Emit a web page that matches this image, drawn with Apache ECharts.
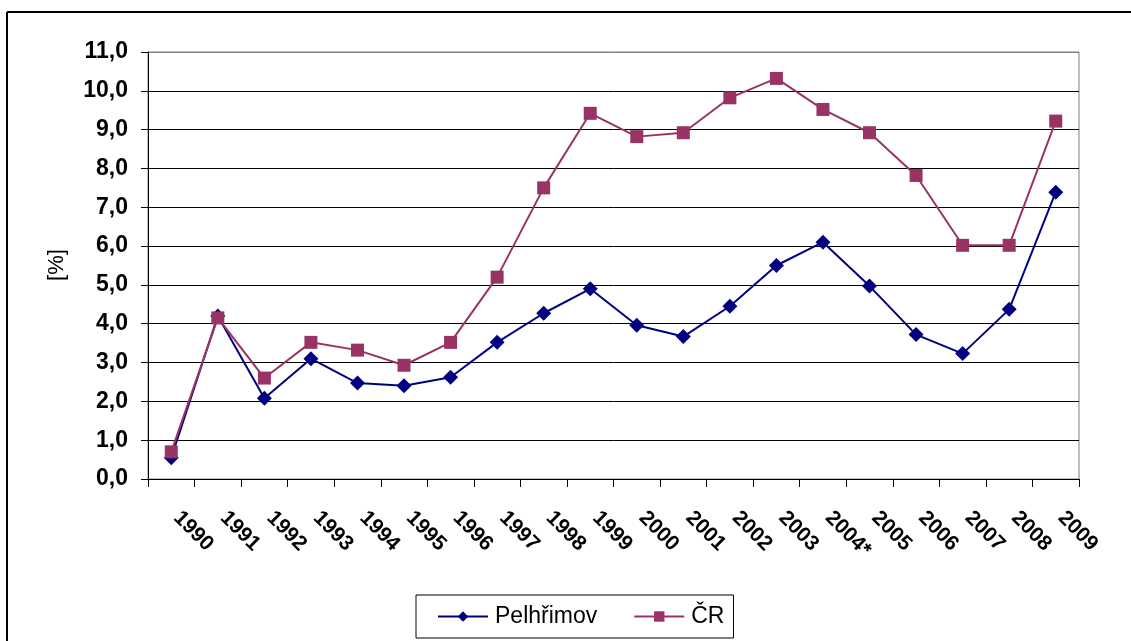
<!DOCTYPE html>
<html>
<head>
<meta charset="utf-8">
<script src="https://cdn.jsdelivr.net/npm/echarts@6/dist/echarts.min.js"></script>
<style>
html,body{margin:0;padding:0;background:#fff;}
#c{width:1131px;height:641px;}
</style>
</head>
<body>
<div id="c"></div>
<script>
const years = ['1990','1991','1992','1993','1994','1995','1996','1997','1998','1999','2000','2001','2002','2003','2004*','2005','2006','2007','2008','2009'];
const pelhrimov = [0.55,4.2,2.08,3.1,2.47,2.4,2.62,3.52,4.27,4.9,3.96,3.67,4.45,5.5,6.1,4.97,3.72,3.23,4.37,7.39];
const cr = [0.7,4.15,2.6,3.52,3.32,2.93,3.52,5.2,7.5,9.42,8.82,8.92,9.82,10.32,9.52,8.92,7.82,6.02,6.02,9.22];
const yTicks = [0,1,2,3,4,5,6,7,8,9,10,11];

const chart = echarts.init(document.getElementById('c'), null, {renderer:'canvas'});
const gridColors = yTicks.map((v,i)=> i===yTicks.length-1 ? '#808080' : '#000000');
chart.setOption({
  animation:false,
  backgroundColor:'#ffffff',
  graphic:[
    {type:'line', shape:{x1:7,y1:12,x2:1131,y2:12}, style:{stroke:'#000',lineWidth:2}, silent:true},
    {type:'line', shape:{x1:7,y1:12,x2:7,y2:641}, style:{stroke:'#000',lineWidth:2}, silent:true},
    {type:'text', x:57, y:265, rotation:Math.PI/2, style:{text:'[%]', font:'22px Arial', fill:'#000', align:'center', verticalAlign:'middle'}, silent:true}
  ],
  grid:{left:148, top:52, right:52, bottom:162, show:true, borderColor:'#808080', borderWidth:1, backgroundColor:'transparent'},
  xAxis:{
    type:'category', data:years, boundaryGap:true,
    axisLine:{show:true, lineStyle:{color:'#000', width:1}},
    axisTick:{show:true, length:8, inside:false, lineStyle:{color:'#000'}},
    axisLabel:{rotate:-45, interval:0, margin:30, color:'#000', fontFamily:'Arial', fontWeight:'bold', fontSize:21, padding:[0,0,0,8]},
    splitLine:{show:false}
  },
  yAxis:{
    type:'value', min:0, max:11, interval:1,
    axisLine:{show:true, lineStyle:{color:'#000', width:1}},
    axisTick:{show:true, length:7, lineStyle:{color:'#000'}},
    axisLabel:{margin:20, color:'#000', fontFamily:'Arial', fontWeight:'bold', fontSize:23,
      formatter:v=>v.toFixed(1).replace('.',',')},
    splitLine:{show:true, lineStyle:{color:gridColors, width:1}}
  },
  legend:{
    left:416, top:595,
    orient:'horizontal',
    borderColor:'#000', borderWidth:1, padding:[10,9,10,21],
    itemGap:36, itemWidth:50, itemHeight:13,
    textStyle:{fontFamily:'Arial', fontSize:23, color:'#000', padding:[0,0,0,2]},
    data:['Pelhřimov','ČR']
  },
  series:[
    {name:'Pelhřimov', type:'line', data:pelhrimov, symbol:'diamond', symbolSize:15,
      lineStyle:{color:'#000080', width:2}, itemStyle:{color:'#000080'}},
    {name:'ČR', type:'line', data:cr, symbol:'rect', symbolSize:13,
      lineStyle:{color:'#993366', width:2}, itemStyle:{color:'#993366'}}
  ]
});
</script>
</body>
</html>
